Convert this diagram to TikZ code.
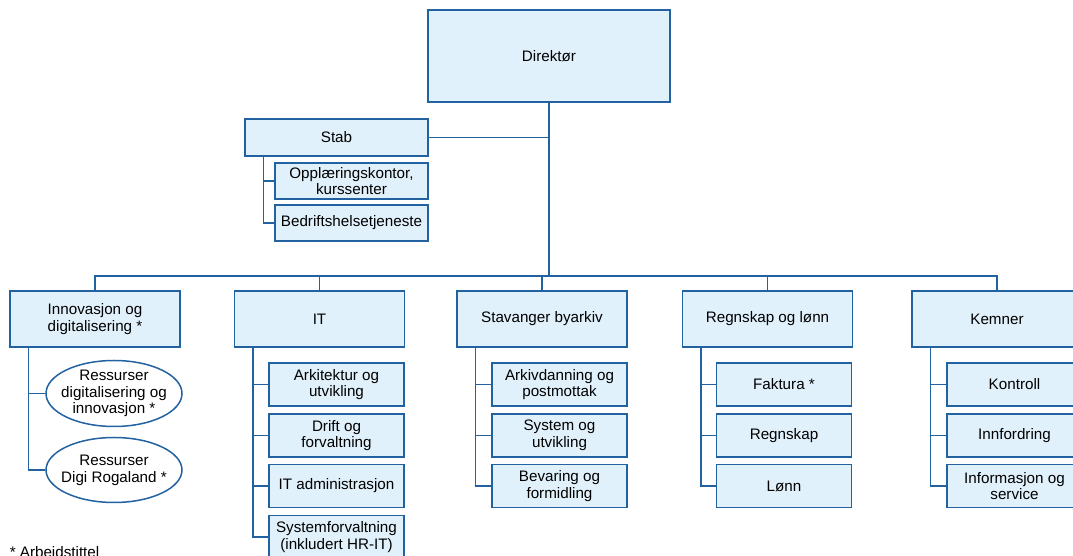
\documentclass[tikz,border=0pt]{standalone}
\usepackage{fontspec}
\setmainfont{Liberation Sans}
\usetikzlibrary{positioning,shapes.geometric}
\definecolor{orgline}{RGB}{35,98,160}
\definecolor{orgfill}{RGB}{225,241,251}

\begin{document}
\begin{tikzpicture}[x=1pt,y=1pt,line width=1.5pt,draw=orgline,
    font=\fontsize{15.2}{16.8}\selectfont]
                \tikzstyle{unit}=[draw=orgline,fill=orgfill,text=black,align=center,inner sep=2pt]
                \tikzstyle{top}=[unit,minimum width=170,minimum height=56]
                \tikzstyle{sub}=[unit,minimum width=135,minimum height=43]
                \tikzstyle{res}=[draw=orgline,ellipse,fill=white,minimum width=136,minimum height=66,inner sep=0pt]
                \tikzstyle{restext}=[align=center,text=black,inner sep=0pt]
                \tikzstyle{wire}=[draw=orgline,line width=1.5pt]

                \useasboundingbox (0,0) rectangle (1073,556);
                \clip (0,0) rectangle (1073,556);

                % ledelse og stab
                \node[unit,minimum width=242,minimum height=92] (dir)    at (549,500)   {Direktør};
                \node[unit,minimum width=183,minimum height=37] (stab)   at (336.5,418.5) {Stab};
                \node[unit,minimum width=153,minimum height=36] (stab1)  at (351.5,375) {Opplæringskontor,\\kurssenter};
                \node[unit,minimum width=153,minimum height=36] (stab2)  at (351.5,333) {Bedriftshelsetjeneste};

                % avdelinger
                \node[top] (innov)  at (95,237)    {Innovasjon og\\digitalisering *};
                \node[top] (it)     at (319.5,237) {IT};
                \node[top] (arkiv)  at (542,237)   {Stavanger byarkiv};
                \node[top] (regn)   at (767.5,237) {Regnskap og lønn};
                \node[top] (kemner) at (997,237)   {Kemner};

                \node[res,label={[restext]center:Ressurser\\digitalisering og\\innovasjon *}] (innov1) at (114,162.5) {};
                \node[res,minimum height=65,label={[restext]center:Ressurser\\Digi Rogaland *}] (innov2) at (114,86) {};

                \node[sub] (it1) at (336.5,171.5) {Arkitektur og\\utvikling};
                \node[sub] (it2) at (336.5,120.5) {Drift og\\forvaltning};
                \node[sub] (it3) at (336.5,70)    {IT administrasjon};
                \node[sub] (it4) at (336.5,19)    {Systemforvaltning\\(inkludert HR-IT)};

                \node[sub] (arkiv1) at (559.5,171.5) {Arkivdanning og\\postmottak};
                \node[sub] (arkiv2) at (559.5,120.5) {System og\\utvikling};
                \node[sub] (arkiv3) at (559.5,70)    {Bevaring og\\formidling};

                \node[sub] (regn1) at (784,171.5) {Faktura *};
                \node[sub] (regn2) at (784,120.5) {Regnskap};
                \node[sub] (regn3) at (784,70)    {Lønn};

                \node[sub] (kemner1) at (1014.5,171.5) {Kontroll};
                \node[sub] (kemner2) at (1014.5,120.5) {Innfordring};
                \node[sub] (kemner3) at (1014.5,70)    {Informasjon og\\service};

                \node[anchor=base west,inner sep=0pt] (note) at (9,-2) {* Arbeidstittel};

                % linjer
                \coordinate (bus) at (549,280);
                \draw[wire] (dir.south) -- (bus);
                \draw[wire] (stab.east) -- (stab.east -| dir.south);
                \draw[wire] (innov.north) |- (bus) -| (kemner.north);
                \foreach \a in {it,arkiv,regn}
                    \draw[wire] (\a.north) -- (\a.north |- bus);

                \foreach \n in {1,2}
                    \draw[wire] ([xshift=19pt]stab.south west) |- (stab\n.west);
                \foreach \n in {1,2}
                    \draw[wire] ([xshift=19pt]innov.south west) |- (innov\n.west);
                \foreach \n in {1,...,4}
                    \draw[wire] ([xshift=19pt]it.south west) |- (it\n.west);
                \foreach \a in {arkiv,regn,kemner}
                    \foreach \n in {1,2,3}
                        \draw[wire] ([xshift=19pt]\a.south west) |- (\a\n.west);
            \end{tikzpicture}
\end{document}
